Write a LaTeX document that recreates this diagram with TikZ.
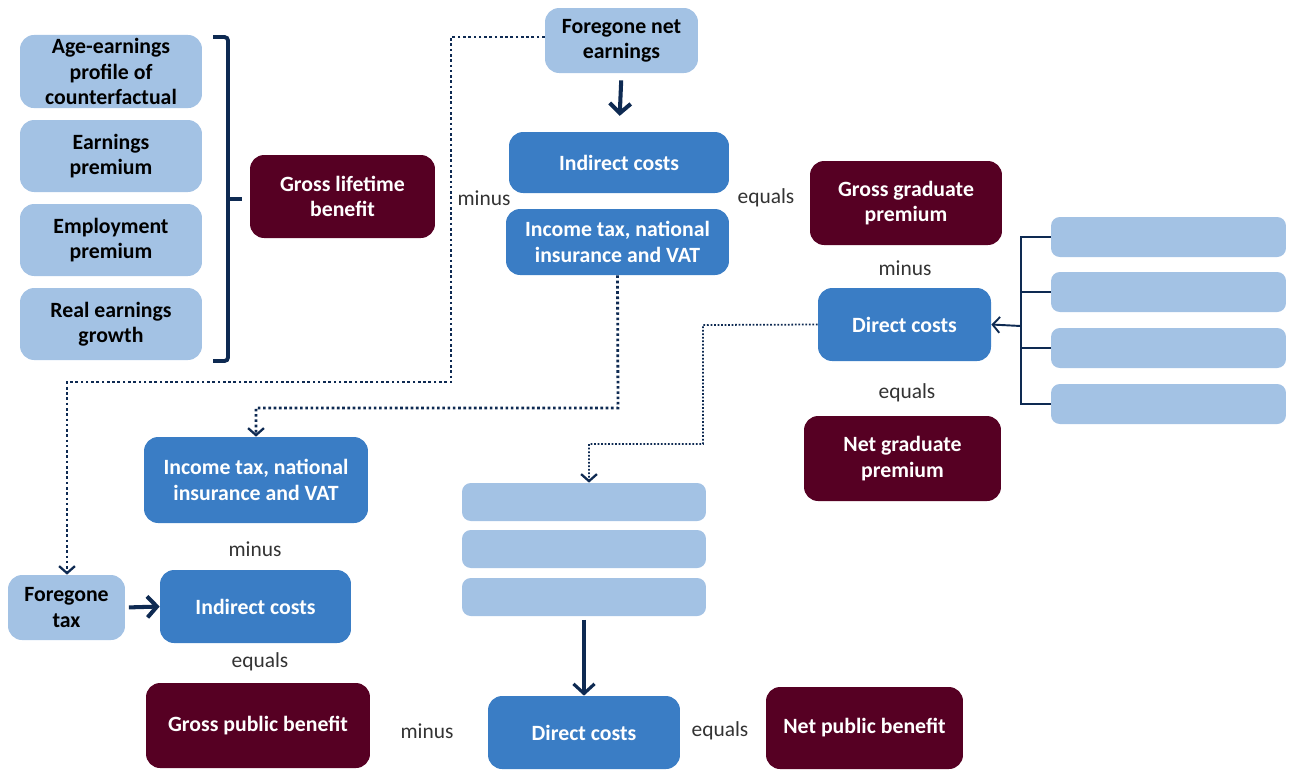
\documentclass[tikz,border=0pt]{standalone}
\usepackage{fontspec}
\setmainfont{Carlito}
\usepackage[x11names]{xcolor}
\usepackage{tikz}
\usetikzlibrary{arrows,arrows.meta}

\definecolor{paleblue}{HTML}{A3C2E4}
\definecolor{midblue}{HTML}{3A7DC5}
\definecolor{wine}{HTML}{560023}
\definecolor{navy}{HTML}{0E2A52}
\definecolor{wordgray}{HTML}{333333}

\begin{document}
\begin{tikzpicture}[%
		x=0.02cm, y=-0.02cm,
		font=\fontsize{12.2pt}{14.4pt}\selectfont,
		box/.style={rounded corners=8pt, align=center, inner sep=2pt, font=\fontsize{12.4pt}{14.4pt}\selectfont\bfseries},
		palebox/.style={box, fill=paleblue, text=black},
		midbox/.style={box, fill=midblue, text=white},
		winebox/.style={box, fill=wine, text=white},
		blankbox/.style={rounded corners=5pt, fill=paleblue},
		opword/.style={text=wordgray},
		bigarrow/.style={navy, line width=2.3pt, -{Straight Barb[length=5.5pt,width=12pt]}},
		dotarrow/.style={navy, line width=1.6pt, dash pattern=on 1.5pt off 1.5pt, -{Straight Barb[length=4pt,width=9pt,line width=1.3pt]}},
		thinarrow/.style={navy, line width=1pt, dash pattern=on 1pt off 1pt, -{Straight Barb[length=4pt,width=9pt,line width=1.3pt]}},
		treeline/.style={navy, line width=1.1pt},
		bracket/.style={navy, line width=2.2pt, rounded corners=2pt},
		>=Latex
		]

		\useasboundingbox (0,0) rectangle (1290,769);

		%% Bruttonutzen, linke Spalte
		\node[palebox, minimum width=3.64cm, minimum height=1.46cm] (age) at (111,71.5) {Age-earnings\\profile of\\counterfactual};
		\node[palebox, minimum width=3.64cm, minimum height=1.44cm] (earn) at (111,156) {Earnings\\premium};
		\node[palebox, minimum width=3.64cm, minimum height=1.44cm] (empl) at (111,240) {Employment\\premium};
		\node[palebox, minimum width=3.64cm, minimum height=1.44cm] (real) at (111,324) {Real earnings\\growth};
		\node[winebox, minimum width=3.7cm, minimum height=1.66cm] (life) at (342.5,196.5) {Gross lifetime\\benefit};

		\draw[bracket] (213,37) -- (228,37) -- (228,361) -- (213,361);
		\draw[bracket] (228,199) -- (242,199);

		%% Absolventen
		\node[palebox, minimum width=3.06cm, minimum height=1.3cm] (fnet) at (621.5,40.5) {Foregone net\\earnings};
		\node[midbox, minimum width=4.4cm, minimum height=1.22cm] (indtop) at (619,162.5) {Indirect costs};
		\node[midbox, minimum width=4.46cm, minimum height=1.32cm] (taxtop) at (617.5,242) {Income tax, national\\insurance and VAT};
		\node[winebox, minimum width=3.84cm, minimum height=1.68cm] (ggp) at (906,203) {Gross graduate\\premium};
		\node[midbox, minimum width=3.46cm, minimum height=1.46cm] (dcright) at (904.5,324.5) {Direct costs};
		\node[winebox, minimum width=3.94cm, minimum height=1.7cm] (ngp) at (902.5,458.5) {Net graduate\\premium};

		\node[opword] (w1) at (484,198) {minus};
		\node[opword] (w2) at (766,198) {equals};
		\node[opword] (w3) at (905,268) {minus};
		\node[opword] (w4) at (907,393) {equals};

		\foreach \y/\n in {237/1,292/2,348/3,404/4}
			\node[blankbox, minimum width=4.7cm, minimum height=0.8cm] (rb\n) at (1168.5,\y) {};

		\coordinate (trunk) at (1021,326);
		\draw[treeline] (rb1.west) -| (rb4.west -| trunk) -- (rb4.west);
		\draw[treeline] (rb2.west) -- (rb2.west -| trunk);
		\draw[treeline] (rb3.west) -- (rb3.west -| trunk);
		\draw[treeline, -{Straight Barb[length=4pt,width=9pt]}] (trunk) -- (dcright.east);

		\draw[bigarrow, shorten <=4pt, shorten >=9pt] (fnet.south) -- (indtop.north);

		%% oeffentliche Hand
		\node[midbox, minimum width=4.48cm, minimum height=1.72cm] (taxlow) at (256,480) {Income tax, national\\insurance and VAT};
		\node[palebox, minimum width=2.34cm, minimum height=1.3cm] (ftax) at (66.5,607.5) {Foregone\\tax};
		\node[midbox, minimum width=3.82cm, minimum height=1.46cm] (indlow) at (255.5,606.5) {Indirect costs};
		\node[winebox, minimum width=4.48cm, minimum height=1.7cm] (gpb) at (258,725.5) {Gross public benefit};

		\foreach \y/\n in {502/1,549/2,597/3}
			\node[blankbox, minimum width=4.88cm, minimum height=0.76cm] (sb\n) at (584,\y) {};

		\node[midbox, minimum width=3.84cm, minimum height=1.46cm] (dcbot) at (584,732.5) {Direct costs};
		\node[winebox, minimum width=3.94cm, minimum height=1.64cm] (npb) at (864.5,728) {Net public benefit};

		\node[opword] (w5) at (255,549) {minus};
		\node[opword] (w6) at (260,662) {equals};
		\node[opword] (w7) at (427,731) {minus};
		\node[opword] (w8) at (720,731) {equals};

		\draw[bigarrow, shorten <=2pt] (ftax.east) -- (indlow.west);
		\draw[bigarrow, line width=1.8pt, shorten <=2pt] (sb3.south -| dcbot.north) -- (dcbot.north);

		%% gepunktete Verbindungen
		\draw[dotarrow] (fnet.west |- 0,37) -- (451,37) -- (451,382) -- (67,382) -- (ftax.north -| 67,0);
		\draw[dotarrow] (taxtop.south) -- (618,408) -- (256,408) -- (taxlow.north);
		\draw[thinarrow] (dcright.west) -- (703,325) -- (703,444) -- (589,444) -- (sb1.north -| 589,0);

	\end{tikzpicture}
\end{document}
